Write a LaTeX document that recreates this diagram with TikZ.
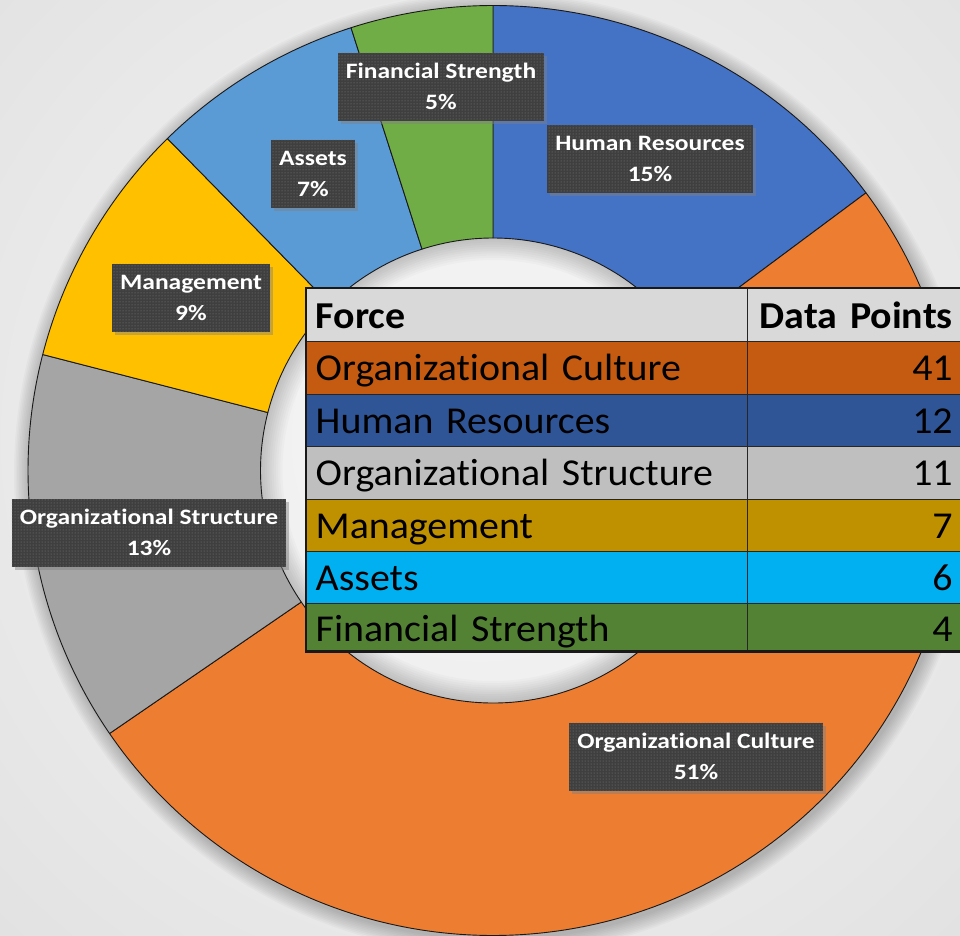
\documentclass[tikz,border=0pt]{standalone}
\usepackage{fontspec}
\setmainfont[Ligatures=NoCommon]{Carlito}
\newfontfamily\lblfont[FakeStretch=1.16, Ligatures=NoCommon]{Carlito}
\newfontfamily\tabfont[FakeStretch=1.05, WordSpace=0.8, Ligatures=NoCommon]{Carlito}
\usetikzlibrary{positioning,shadows,patterns,fit}

% ring colours
\definecolor{hrblue}{HTML}{4472C4}
\definecolor{ocorange}{HTML}{ED7D31}
\definecolor{osgray}{HTML}{A5A5A5}
\definecolor{mgyellow}{HTML}{FFC000}
\definecolor{asblue}{HTML}{5B9BD5}
\definecolor{fsgreen}{HTML}{70AD47}
% table colours
\definecolor{thead}{HTML}{D9D9D9}
\definecolor{toc}{HTML}{C55A11}
\definecolor{thr}{HTML}{2F5597}
\definecolor{tos}{HTML}{BFBFBF}
\definecolor{tmg}{HTML}{BF9000}
\definecolor{tas}{HTML}{00B0F0}
\definecolor{tfs}{HTML}{548235}
\definecolor{lblgray}{HTML}{3F3F3F}

\begin{document}
\begin{tikzpicture}[
  x=1pt, y=1pt,
  seg/.style={draw=black!90, line width=0.9pt, line join=round},
  lbl/.style={fill=lblgray, text=white, align=center,
              font=\lblfont\bfseries\fontsize{22}{31}\selectfont,
              minimum height=68pt, inner xsep=8pt,
              drop shadow={shadow xshift=3pt, shadow yshift=-3pt, opacity=0.45},
              postaction={pattern=dots, pattern color=black!50}},
  cellA/.style={draw=black!85, line width=1.4pt, anchor=north west,
                text width=423pt, inner xsep=9pt, inner ysep=0pt, align=left,
                font=\tabfont\fontsize{38}{40}\selectfont,
                text height=39pt, text depth=13.5pt},
  cellB/.style={cellA, text width=197pt, inner xsep=8pt, align=right}
]
  \useasboundingbox (0,0) rectangle (960,-935);

  % Background
  \begin{scope}
    \clip (0,0) rectangle (960,-935);
    \shade[inner color=black!3, outer color=black!20] (480,-440) circle (1400pt);
  \end{scope}

  % Donut (12 + 41 + 11 + 7 + 6 + 4 = 81 data points)
  \begin{scope}[shift={(493,-470.5)}]
    % soft shadow round the ring, and into the hole
    \foreach \k in {1,...,10} {
      \pgfmathsetmacro\rr{465+1.6*\k}
      \pgfmathsetmacro\ri{232.5-2.2*\k}
      \fill[black, opacity=0.025, even odd rule, shift={(2,-3)}]
        (0,0) circle[radius=\rr pt] (0,0) circle[radius=460pt];
      \fill[black, opacity=0.02, even odd rule]
        (0,0) circle[radius=235pt] (0,0) circle[radius=\ri pt];
    }
    \foreach \a/\b/\col in {90/36.667/hrblue, 36.667/-145.556/ocorange,
                            -145.556/-194.444/osgray, -194.444/-225.556/mgyellow,
                            -225.556/-252.222/asblue, -252.222/-270/fsgreen} {
      \filldraw[seg, fill=\col] (\a:465pt) arc[start angle=\a, end angle=\b, radius=465pt]
        -- (\b:232.5pt) arc[start angle=\b, end angle=\a, radius=232.5pt] -- cycle;
    }
  \end{scope}

  % Data labels
  \node[lbl] (lbl-fs) at (441,-86.5)  {Financial Strength\\5\%};
  \node[lbl] (lbl-as) at (313,-173.5) {Assets\\7\%};
  \node[lbl] (lbl-hr) at (650,-159)   {Human Resources\\15\%};
  \node[lbl] (lbl-mg) at (191,-297.5) {Management\\9\%};
  \node[lbl] (lbl-os) at (149,-532.5) {Organizational Structure\\13\%};
  \node[lbl] (lbl-oc) at (696,-756.5) {Organizational Culture\\51\%};

  % Table
  \node[cellA, fill=thead, text height=39.5pt] (force-head) at (306,-288) {\bfseries Force};
  \node[cellB, fill=thead, text height=39.5pt] (count-head) at (747,-288) {\bfseries Data Points};
  \foreach \fid/\fname/\fcol/\fval/\ftop in {oc/Organizational Culture/toc/41/341,
                                            hr/Human Resources/thr/12/393.5,
                                            os/Organizational Structure/tos/11/446,
                                            mg/Management/tmg/7/498.5,
                                            as/Assets/tas/6/551} {
    \node[cellA, fill=\fcol] (force-\fid) at (306,-\ftop) {\fname};
    \node[cellB, fill=\fcol] (count-\fid) at (747,-\ftop) {\fval};
  }
  \node[cellA, fill=tfs, text height=38pt, text depth=9pt] (force-fs) at (306,-603) {Financial Strength};
  \node[cellB, fill=tfs, text height=38pt, text depth=9pt] (count-fs) at (747,-603) {4};
  \node[fit=(force-head)(count-fs), draw=black!90, line width=2.2pt, inner sep=0pt] (frame) {};
\end{tikzpicture}
\end{document}
